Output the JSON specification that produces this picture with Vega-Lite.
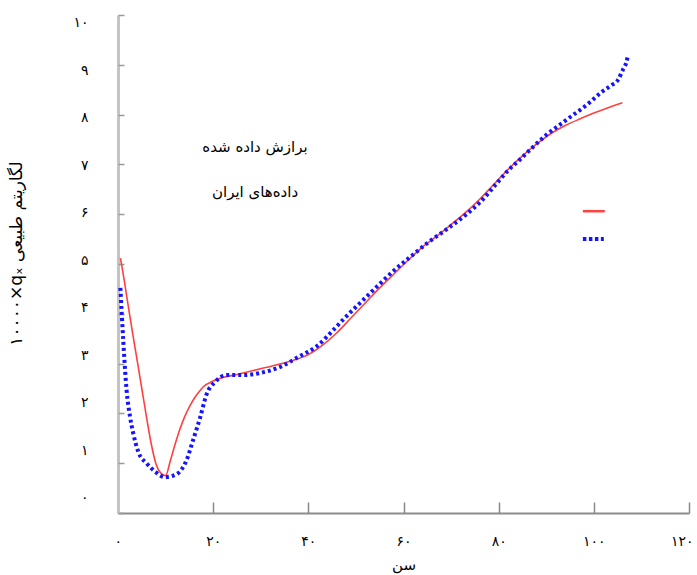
{
  "$schema": "https://vega.github.io/schema/vega-lite/v6.json",
  "autosize": "none",
  "width": 571,
  "height": 498,
  "padding": {"left": 118, "top": 15, "right": 8, "bottom": 62},
  "background": "white",
  "config": {
    "view": {"stroke": null},
    "font": "DejaVu Sans"
  },
  "datasets": {
    "fit": [
      {"age": 0.5, "v": 5.12}, {"age": 1, "v": 4.85}, {"age": 2, "v": 4.25}, {"age": 3, "v": 3.65},
      {"age": 4, "v": 3.08}, {"age": 5, "v": 2.5}, {"age": 6, "v": 1.92}, {"age": 7, "v": 1.38},
      {"age": 8, "v": 0.98}, {"age": 9, "v": 0.8}, {"age": 10, "v": 0.75}, {"age": 11, "v": 1.05},
      {"age": 12, "v": 1.38}, {"age": 13, "v": 1.68}, {"age": 14, "v": 1.93}, {"age": 15, "v": 2.13},
      {"age": 16, "v": 2.3}, {"age": 17, "v": 2.43}, {"age": 18, "v": 2.54}, {"age": 20, "v": 2.65},
      {"age": 22, "v": 2.72}, {"age": 25, "v": 2.78}, {"age": 28, "v": 2.85}, {"age": 31, "v": 2.92},
      {"age": 34, "v": 2.99}, {"age": 37, "v": 3.07}, {"age": 40, "v": 3.18}, {"age": 43, "v": 3.37},
      {"age": 46, "v": 3.62}, {"age": 49, "v": 3.92}, {"age": 52, "v": 4.22}, {"age": 55, "v": 4.52},
      {"age": 58, "v": 4.8}, {"age": 61, "v": 5.08}, {"age": 64, "v": 5.34}, {"age": 67, "v": 5.56},
      {"age": 70, "v": 5.79}, {"age": 73, "v": 6.03}, {"age": 76, "v": 6.3}, {"age": 79, "v": 6.6},
      {"age": 82, "v": 6.9}, {"age": 85, "v": 7.17}, {"age": 88, "v": 7.41}, {"age": 91, "v": 7.62},
      {"age": 94, "v": 7.78}, {"age": 97, "v": 7.91}, {"age": 100, "v": 8.03}, {"age": 103, "v": 8.14},
      {"age": 106, "v": 8.24}
    ],
    "obs": [
      {"age": 0.5, "v": 4.52}, {"age": 1.1, "v": 3.47}, {"age": 1.8, "v": 2.47}, {"age": 2.5, "v": 1.95},
      {"age": 3.2, "v": 1.6}, {"age": 4.3, "v": 1.22}, {"age": 6, "v": 1.0}, {"age": 7.8, "v": 0.83},
      {"age": 9.9, "v": 0.72}, {"age": 12.3, "v": 0.78}, {"age": 14.4, "v": 1.06}, {"age": 15.8, "v": 1.47},
      {"age": 17.3, "v": 1.93}, {"age": 18.6, "v": 2.38}, {"age": 20.4, "v": 2.63}, {"age": 22.8, "v": 2.77},
      {"age": 26.3, "v": 2.77}, {"age": 29.8, "v": 2.81}, {"age": 34, "v": 2.93}, {"age": 38.2, "v": 3.15},
      {"age": 41.8, "v": 3.35}, {"age": 45.2, "v": 3.67}, {"age": 48, "v": 3.95}, {"age": 50.9, "v": 4.22},
      {"age": 55, "v": 4.6}, {"age": 58, "v": 4.87}, {"age": 61.4, "v": 5.14}, {"age": 65, "v": 5.42},
      {"age": 69.1, "v": 5.7}, {"age": 73, "v": 5.98}, {"age": 76.1, "v": 6.24}, {"age": 79.6, "v": 6.62},
      {"age": 82, "v": 6.88}, {"age": 84.5, "v": 7.1}, {"age": 87, "v": 7.33}, {"age": 90.1, "v": 7.6},
      {"age": 92.9, "v": 7.8}, {"age": 95.6, "v": 7.99}, {"age": 97.5, "v": 8.12}, {"age": 99.2, "v": 8.25},
      {"age": 101.6, "v": 8.45}, {"age": 103.7, "v": 8.59}, {"age": 105.1, "v": 8.7}, {"age": 106.1, "v": 8.9},
      {"age": 106.8, "v": 9.04}, {"age": 107.2, "v": 9.2}
    ],
    "legendText": [
      {"x": 28.8, "y": 7.35, "label": "برازش داده شده"},
      {"x": 28.8, "y": 6.45, "label": "داده‌های ایران"}
    ],
    "legendFit": [{"x": 97.7, "x2": 102.3, "y": 6.06}],
    "legendObs": [{"x": 97.7, "x2": 102.1, "y": 5.5}],
    "one": [{"id": 1}]
  },
  "resolve": {
    "scale": {"x": "independent", "y": "independent"},
    "axis": {"x": "independent", "y": "independent"}
  },
  "layer": [
    {
      "data": {"name": "fit"},
      "mark": {"type": "line", "color": "#ff4040", "strokeWidth": 1.6, "interpolate": "monotone"},
      "encoding": {
        "x": {
          "field": "age", "type": "quantitative",
          "scale": {"domain": [0, 120], "nice": false, "zero": false},
          "axis": {
            "orient": "bottom",
            "values": [0, 20, 40, 60, 80, 100, 120],
            "title": "سن",
            "titleFont": "DejaVu Sans", "titleFontSize": 15, "titleFontWeight": "normal", "titleColor": "#000",
            "titlePadding": 9,
            "labelExpr": "replace(replace(replace(replace(replace(replace(replace(datum.label, /0/g, '۰'), /1/g, '۱'), /2/g, '۲'), /4/g, '۴'), /6/g, '۶'), /8/g, '۸'), /,/g, '')",
            "labelFont": "DejaVu Sans", "labelFontSize": 14, "labelColor": "#000",
            "labelPadding": 21, "ticks": false,
            "labelFlush": true, "labelFlushOffset": 4,
            "domainColor": "#8c8c8c", "domainWidth": 2.2, "grid": false
          }
        },
        "y": {
          "field": "v", "type": "quantitative",
          "scale": {"domain": [0, 10], "nice": false, "zero": false},
          "axis": {
            "orient": "left",
            "title": null, "labels": false, "ticks": false, "grid": false,
            "domainColor": "#c4c4c4", "domainWidth": 3
          }
        }
      }
    },
    {
      "data": {"name": "obs"},
      "mark": {"type": "line", "color": "#1414ff", "strokeWidth": 4, "strokeDash": [3, 3], "interpolate": "monotone"},
      "encoding": {
        "x": {"field": "age", "type": "quantitative", "scale": {"domain": [0, 120], "nice": false, "zero": false}, "axis": null},
        "y": {"field": "v", "type": "quantitative", "scale": {"domain": [0, 10], "nice": false, "zero": false}, "axis": null}
      }
    },
    {
      "data": {"name": "legendText"},
      "mark": {"type": "text", "font": "DejaVu Sans", "fontSize": 15, "color": "#000", "align": "center", "baseline": "middle"},
      "encoding": {
        "x": {"field": "x", "type": "quantitative", "scale": {"domain": [0, 120], "nice": false, "zero": false}, "axis": null},
        "y": {"field": "y", "type": "quantitative", "scale": {"domain": [0, 10], "nice": false, "zero": false}, "axis": null},
        "text": {"field": "label"}
      }
    },
    {
      "data": {"name": "legendFit"},
      "mark": {"type": "rule", "color": "#ff4040", "strokeWidth": 2.5},
      "encoding": {
        "x": {"field": "x", "type": "quantitative", "scale": {"domain": [0, 120], "nice": false, "zero": false}, "axis": null},
        "x2": {"field": "x2"},
        "y": {"field": "y", "type": "quantitative", "scale": {"domain": [0, 10], "nice": false, "zero": false}, "axis": null}
      }
    },
    {
      "data": {"name": "legendObs"},
      "mark": {"type": "rule", "color": "#1414ff", "strokeWidth": 4, "strokeDash": [3.5, 2.5]},
      "encoding": {
        "x": {"field": "x", "type": "quantitative", "scale": {"domain": [0, 120], "nice": false, "zero": false}, "axis": null},
        "x2": {"field": "x2"},
        "y": {"field": "y", "type": "quantitative", "scale": {"domain": [0, 10], "nice": false, "zero": false}, "axis": null}
      }
    },
    {
      "data": {"name": "one"},
      "mark": {"type": "point", "opacity": 0},
      "encoding": {
        "x": {
          "datum": 0, "type": "quantitative",
          "scale": {"domain": [0, 120], "nice": false, "zero": false},
          "axis": {
            "orient": "bottom", "values": [0, 20, 40, 60, 80, 100, 120],
            "labels": false, "domain": false, "title": null, "grid": false,
            "ticks": true, "tickSize": 11, "offset": -11, "tickColor": "#888", "tickWidth": 1.5
          }
        },
        "y": {
          "datum": 0, "type": "quantitative",
          "scale": {"domain": [0, 10], "nice": false, "zero": false},
          "axis": {
            "orient": "left", "values": [0, 1, 2, 3, 4, 5, 6, 7, 8, 9, 10],
            "labels": false, "domain": false, "title": null, "grid": false,
            "ticks": true, "tickSize": 6, "offset": -6, "tickColor": "#999", "tickWidth": 1.5
          }
        }
      }
    },
    {
      "data": {"name": "one"},
      "mark": {"type": "point", "opacity": 0},
      "encoding": {
        "x": {"datum": 0, "type": "quantitative", "scale": {"domain": [0, 120], "nice": false, "zero": false}, "axis": null},
        "y": {
          "datum": 5, "type": "quantitative",
          "scale": {"domain": [-0.316, 10.168], "nice": false, "zero": false},
          "axis": {
            "orient": "left", "values": [0, 1, 2, 3, 4, 5, 6, 7, 8, 9, 10],
            "domain": false, "ticks": false, "grid": false,
            "labelExpr": "replace(replace(replace(replace(replace(replace(replace(replace(replace(replace(datum.label, /0/g, '۰'), /1/g, '۱'), /2/g, '۲'), /3/g, '۳'), /4/g, '۴'), /5/g, '۵'), /6/g, '۶'), /7/g, '۷'), /8/g, '۸'), /9/g, '۹')",
            "labelFont": "DejaVu Sans", "labelFontSize": 14, "labelColor": "#000",
            "labelPadding": 30, "labelFlush": false,
            "title": "۱۰۰۰۰×qₓ لگاریتم طبیعی",
            "titleFont": "DejaVu Sans", "titleFontSize": 17, "titleFontWeight": "normal", "titleColor": "#000",
            "titlePadding": 47, "titleY": 238
          }
        }
      }
    }
  ]
}
